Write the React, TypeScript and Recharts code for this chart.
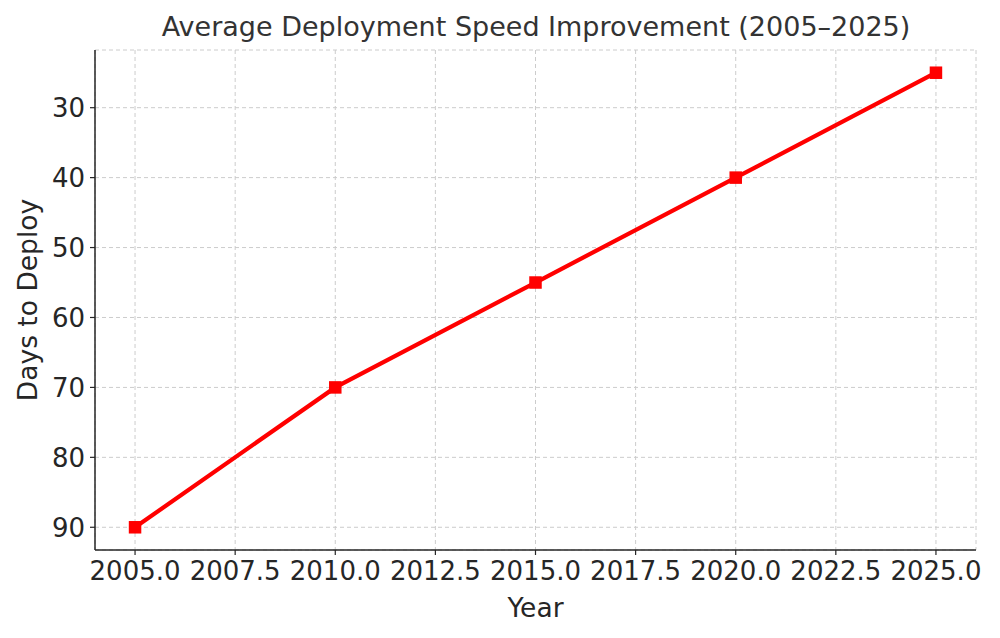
import React from "react";
import { LineChart, Line, XAxis, YAxis, CartesianGrid, Label } from "recharts";

const years = [2005, 2010, 2015, 2020, 2025];
const daysToDeploy = [90, 70, 55, 40, 25];
const xTicks = [2005, 2007.5, 2010, 2012.5, 2015, 2017.5, 2020, 2022.5, 2025];
const yTicks = [30, 40, 50, 60, 70, 80, 90];

const data = years.map((y, i) => ({ year: y, days: daysToDeploy[i] }));

const FONT = "DejaVu Sans, sans-serif";

const SquareDot = (props: any) => {
  const { cx, cy, key } = props;
  if (cx == null || cy == null) return null;
  return <rect key={key} x={cx - 6.25} y={cy - 6.25} width={12.5} height={12.5} fill="#ff0000" />;
};

export default function App() {
  return (
    <div style={{ position: "absolute", left: 0, top: 0, width: 1000, height: 638, background: "#fff" }}>
      <div
        style={{
          position: "absolute",
          left: 0,
          top: 11,
          width: 1072,
          textAlign: "center",
          fontFamily: FONT,
          fontSize: 27,
          color: "#333333",
          whiteSpace: "nowrap",
        }}
      >
        Average Deployment Speed Improvement (2005–2025)
      </div>
      <LineChart
        width={1000}
        height={638}
        data={data}
        margin={{ top: 50, right: 24, bottom: 0, left: 0 }}
      >
        <CartesianGrid stroke="#cccccc" strokeDasharray="4 3" strokeWidth={1} />
        <XAxis
          dataKey="year"
          type="number"
          domain={[2004, 2026]}
          ticks={xTicks}
          tickFormatter={(v: number) => v.toFixed(1)}
          height={88}
          interval={0}
          allowDataOverflow
          axisLine={{ stroke: "#262626", strokeWidth: 1.5 }}
          tickLine={{ stroke: "#262626", strokeWidth: 1.2 }}
          tickSize={5}
          tickMargin={6.5}
          tick={{ fill: "#262626", fontSize: 26, fontFamily: FONT }}
        >
          <Label value="Year" position="insideBottom" offset={21} fill="#262626" fontSize={26.5} fontFamily={FONT} />
        </XAxis>
        <YAxis
          type="number"
          reversed
          domain={[21.75, 93.25]}
          ticks={yTicks}
          width={95}
          interval={0}
          allowDataOverflow
          axisLine={{ stroke: "#262626", strokeWidth: 1.5 }}
          tickLine={{ stroke: "#262626", strokeWidth: 1.2 }}
          tickSize={5}
          tickMargin={5}
          tick={{ fill: "#262626", fontSize: 26, fontFamily: FONT }}
        >
          <Label
            value="Days to Deploy"
            angle={-90}
            position="insideLeft"
            offset={28}
            style={{ textAnchor: "middle" }}
            fill="#262626"
            fontSize={26.5}
            fontFamily={FONT}
          />
        </YAxis>
        <Line
          type="linear"
          dataKey="days"
          stroke="#ff0000"
          strokeWidth={4.2}
          dot={SquareDot}
          activeDot={false}
          isAnimationActive={false}
        />
      </LineChart>
    </div>
  );
}
